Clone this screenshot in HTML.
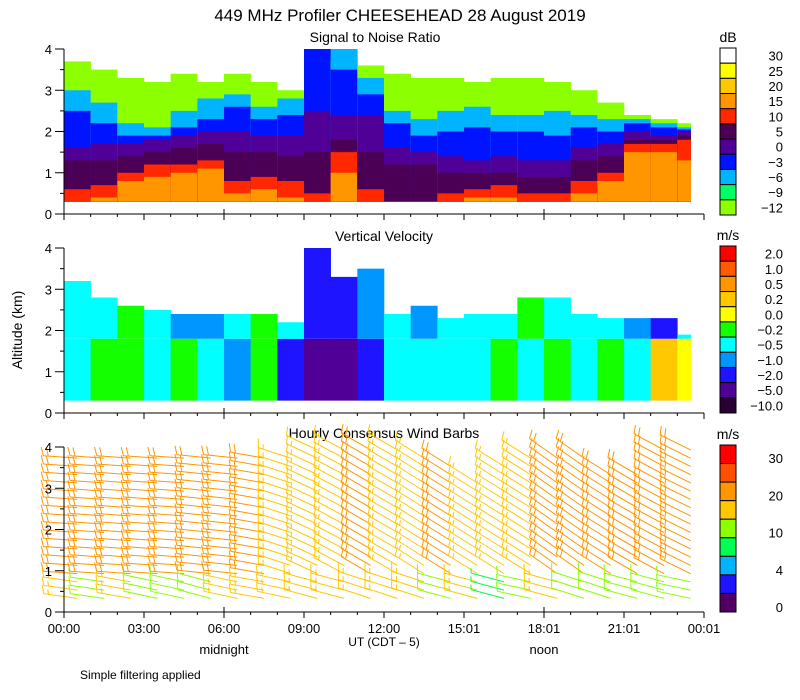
<!DOCTYPE html>
<html><head><meta charset="utf-8"><style>
body{margin:0;background:#fff;}
svg{display:block;font-family:"Liberation Sans",sans-serif;}
</style></head><body>
<svg id="c" width="800" height="700" viewBox="0 0 800 700">
<text x="400" y="21" font-size="17" text-anchor="middle">449 MHz Profiler CHEESEHEAD 28 August 2019</text>
<text x="375" y="42" font-size="14" text-anchor="middle">Signal to Noise Ratio</text>
<text x="384" y="241" font-size="14" text-anchor="middle">Vertical Velocity</text>
<text x="384" y="438" font-size="14" text-anchor="middle">Hourly Consensus Wind Barbs</text>
<text x="22" y="330" font-size="14" text-anchor="middle" transform="rotate(-90 22 330)">Altitude (km)</text>
<text x="384" y="646" font-size="12" text-anchor="middle">UT  (CDT – 5)</text>
<text x="224" y="654" font-size="13" text-anchor="middle">midnight</text>
<text x="544" y="654" font-size="13" text-anchor="middle">noon</text>
<text x="80" y="679" font-size="12">Simple filtering applied</text>
<g id="g"></g>
</svg>
<script>
// ---- data ----
const xTickLabels=["00:00","03:00","06:00","09:00","12:00","15:01","18:01","21:01","00:01"];
const yTickLabels=["0","1","2","3","4"];
const snrLabels=["30","25","20","15","10","5","0","−3","−6","−9","−12"];
const vvLabels=["2.0","1.0","0.5","0.2","0.0","−0.2","−0.5","−1.0","−2.0","−5.0","−10.0"];
const windLabels=["30","20","10","4","0"];
// SNR layer tops (km) per hour
const snrHot   =[0.6,0.7,1.0,1.2,1.2,1.3,0.8,0.9,0.8,0.5,1.5,0.6,0.3,0.3,0.5,0.6,0.7,0.5,0.5,0.8,1.0,1.7,1.7,1.8];
const snrOrange=[0.3,0.4,0.8,0.9,1.0,1.1,0.5,0.6,0.4,0.3,1.0,0.3,0.3,0.3,0.3,0.4,0.4,0.3,0.3,0.5,0.8,1.5,1.5,1.3];
const snrDark  =[1.3,1.3,1.4,1.5,1.6,1.7,1.5,1.5,1.4,1.5,1.8,1.5,1.2,1.2,1.0,1.0,1.0,0.9,0.9,1.3,1.4,1.8,1.8,1.9];
const snrPurple=[1.6,1.7,1.7,1.8,1.9,2.0,2.0,1.9,1.9,2.5,2.4,2.4,1.6,1.5,1.4,1.3,1.4,1.3,1.3,1.6,1.7,2.0,1.9,2.0];
const snrBlue  =[2.5,2.2,1.9,1.9,2.1,2.3,2.6,2.3,2.4,4.0,3.5,2.9,2.2,1.9,2.0,2.1,2.0,2.0,1.9,2.1,2.0,2.2,2.1,2.05];
const snrCyan  =[3.0,2.7,2.2,2.1,2.5,2.8,2.9,2.6,2.8,4.0,4.0,3.3,2.5,2.3,2.5,2.6,2.4,2.4,2.5,2.4,2.3,2.3,2.2,2.1];
const snrLime  =[3.7,3.5,3.3,3.2,3.4,3.2,3.4,3.2,3.0,4.0,3.8,3.6,3.4,3.3,3.3,3.2,3.3,3.3,3.2,3.0,2.7,2.4,2.3,2.2];
// vertical velocity (m/s) per hour, lower (<1.8 km) and upper layers, data top (km)
const vvLow=[-0.5,-0.2,-0.2,-0.5,-0.2,-0.5,-1.0,-0.2,-2.0,-5.0,-5.0,-2.0,-0.5,-0.5,-0.5,-0.5,-0.2,-0.5,-0.2,-0.5,-0.2,-0.5,0.2,0.0];
const vvUp =[-0.5,-0.5,-0.2,-0.5,-1.0,-1.0,-0.5,-0.2,-0.5,-2.0,-2.0,-1.0,-0.5,-1.0,-0.5,-0.5,-0.5,-0.2,-0.5,-0.5,-0.5,-1.0,-2.0,-0.5];
const vvTop=[3.2,2.8,2.6,2.5,2.4,2.4,2.4,2.4,2.2,4.0,3.3,3.5,2.4,2.6,2.3,2.4,2.4,2.8,2.8,2.4,2.3,2.3,2.3,1.9];
// wind barbs per hour
const windLevels=[0.33,0.53,0.73,0.93,1.13,1.33,1.53,1.73,1.93,2.13,2.33,2.53,2.73,2.93,3.13,3.33,3.53,3.73,3.93];
const windTop=[3.9,3.9,3.9,3.9,3.9,3.9,3.9,3.9,3.9,4.0,4.0,4.0,4.0,3.9,3.6,3.3,3.6,3.9,3.9,3.9,3.4,3.4,4.0,4.0];
const spdLow=[17,12,17,11,12,11,17,17,17,17,17,17,17,17,11,17,9,11,17,11,11,11,11,11];
const spdUp =[22,22,22,22,22,22,22,22,18,18,18,22,18,18,22,18,18,18,22,22,22,22,22,22];
const dirLow=[278,278,280,282,282,285,282,280,282,285,285,288,288,288,285,285,285,282,285,288,288,285,285,282];
const dirUp =[274,274,274,274,274,276,276,280,288,295,298,300,300,302,302,302,302,302,305,305,302,300,298,296];

// ---- scales ----
const X0=64, PXH=80/3, KM=41.25, END=23.5;
const panels=[{b:214},{b:413},{b:612}];
const xOf=h=>X0+h*PXH;
const yOf=(p,km)=>panels[p].b-km*KM;
const NS="http://www.w3.org/2000/svg";
const G=document.getElementById('g');
function el(t,a,parent){const e=document.createElementNS(NS,t);for(const k in a)e.setAttribute(k,a[k]);(parent||G).appendChild(e);return e;}

const snrColors=["#ffffff","#ffff00","#ffc800","#ff9600","#ff2800","#4b0055","#500096","#0014ff","#00b4ff","#00ff64","#8cff00"];
const vvColors=["#ff0000","#ff5a00","#ff9600","#ffc800","#ffff00","#14ff00","#00ffff","#0096ff","#1e14ff","#500096","#280032"];
const vvVals=[2.0,1.0,0.5,0.2,0.0,-0.2,-0.5,-1.0,-2.0,-5.0,-10.0];
const windColors=["#ff0000","#ff5000","#ff9600","#ffc800","#8cff00","#00ff50","#00b4ff","#1e14ff","#500064"];
const windThr=[30,25,20,15,10,7,4,2,0];
function vvColor(v){for(let i=0;i<vvVals.length;i++){if(v>=vvVals[i])return vvColors[i];}return vvColors[10];}
function windColor(s){for(let i=0;i<windThr.length;i++){if(s>=windThr[i])return windColors[i];}return windColors[8];}

// ---- SNR panel ----
const gs=el('g',{});


function band(g,p,h,k0,k1,col){
  const x1=xOf(h), x2=xOf(Math.min(h+1,END));
  if(k1<=k0)return;
  const r=el('rect',{x:x1,y:yOf(p,k1),width:x2-x1+0.3,height:(k1-k0)*KM,fill:col},g);
  
  
}
for(let h=0;h<snrHot.length;h++){
  band(gs,0,h,0.3,snrLime[h],"#8cff00");
  band(gs,0,h,0.3,snrCyan[h],"#00b4ff");
  band(gs,0,h,0.3,snrBlue[h],"#0014ff");
  band(gs,0,h,0.3,snrPurple[h],"#500096");
  band(gs,0,h,0.3,snrDark[h],"#4b0055");
  band(gs,0,h,0.3,snrHot[h],"#ff2800");
  band(gs,0,h,0.3,snrOrange[h],"#ff9600");
}
// ---- velocity panel ----
const gv=el('g',{});


for(let h=0;h<vvLow.length;h++){
  band(gv,1,h,0.3,Math.min(1.8,vvTop[h]),vvColor(vvLow[h]));
  band(gv,1,h,1.8,vvTop[h],vvColor(vvUp[h]));
}
// ---- wind barbs ----
const gw=el('g',{});


for(let h=0;h<windTop.length;h++){
  const xs=xOf(h+0.5);
  windLevels.forEach(km=>{
    if(km>windTop[h])return;
    const low=km<0.8;
    const s=low?spdLow[h]:spdUp[h], d=(low?dirLow[h]:dirUp[h])*Math.PI/180;
    const ys=yOf(2,km), L=34;
    const ux=Math.sin(d), uy=-Math.cos(d);
    const ex=xs+ux*L, ey=ys+uy*L;
    const col=windColor(s);
    const b=el('g',{stroke:col,'stroke-width':1,fill:'none'},gw);
    
    
    el('line',{x1:xs,y1:ys,x2:ex,y2:ey},b);
    const ang=72*Math.PI/180, c=Math.cos(ang), sn=Math.sin(ang);
    const tx=ux*c-uy*sn, ty=ux*sn+uy*c;
    let full=Math.floor(s/10), half=(s%10)>=5?1:0, off=0;
    for(let i=0;i<full;i++){const bx=ex-ux*off,by=ey-uy*off;el('line',{x1:bx,y1:by,x2:bx+tx*9,y2:by+ty*9},b);off+=5;}
    if(half){const bx=ex-ux*off,by=ey-uy*off;el('line',{x1:bx,y1:by,x2:bx+tx*5,y2:by+ty*5},b);}
  });
}
// ---- axes ----
panels.forEach((p,pi)=>{
  const ax=el('g',{stroke:'#000','stroke-width':1});
  
  
  el('line',{x1:X0,y1:yOf(pi,4),x2:X0,y2:p.b},ax);
  el('line',{x1:X0,y1:p.b,x2:704,y2:p.b},ax);
  for(let k=0;k<=8;k++){const y=yOf(pi,k/2);el('line',{x1:X0-(k%2?4:9),y1:y,x2:X0,y2:y},ax);}
  for(let h=0;h<=24;h++){const x=xOf(h);const maj=h%3==0;el('line',{x1:x,y1:p.b,x2:x,y2:p.b+(maj?6:3)},ax);
    if(h==6||h==18){el('line',{x1:x,y1:p.b,x2:x,y2:p.b-5},ax);}}
  yTickLabels.forEach((t,i)=>{const tx=el('text',{x:52,y:yOf(pi,i)+5,'font-size':13,'text-anchor':'end'});tx.textContent=t;
    
    });
});
xTickLabels.forEach((t,i)=>{const tx=el('text',{x:xOf(i*3),y:633,'font-size':13,'text-anchor':'middle'});tx.textContent=t;
  
  });
// ---- colorbars ----
function colorbar(name,unit,top,bot,cols,labels,labelYs){
  const g=el('g',{});
  
  
  const n=cols.length,hh=(bot-top)/n;
  cols.forEach((c,i)=>el('rect',{x:720,y:top+i*hh,width:16,height:hh,fill:c,stroke:'#000','stroke-width':1},g));
  const u=el('text',{x:728,y:top-6,'font-size':14,'text-anchor':'middle'},g);u.textContent=unit;
  labels.forEach((t,i)=>{const tx=el('text',{x:783,y:labelYs(i,hh)+5,'font-size':13,'text-anchor':'end'},g);tx.textContent=t;
    
    });
}
colorbar('snr-colorbar','dB',48,215,snrColors,snrLabels,(i,hh)=>48+(i+0.5)*hh);
colorbar('velocity-colorbar','m/s',246,413,vvColors,vvLabels,(i,hh)=>246+(i+0.5)*hh);
colorbar('wind-colorbar','m/s',445,612,windColors,windLabels,(i,hh)=>458+i*37.3);
</script>
</body></html>
